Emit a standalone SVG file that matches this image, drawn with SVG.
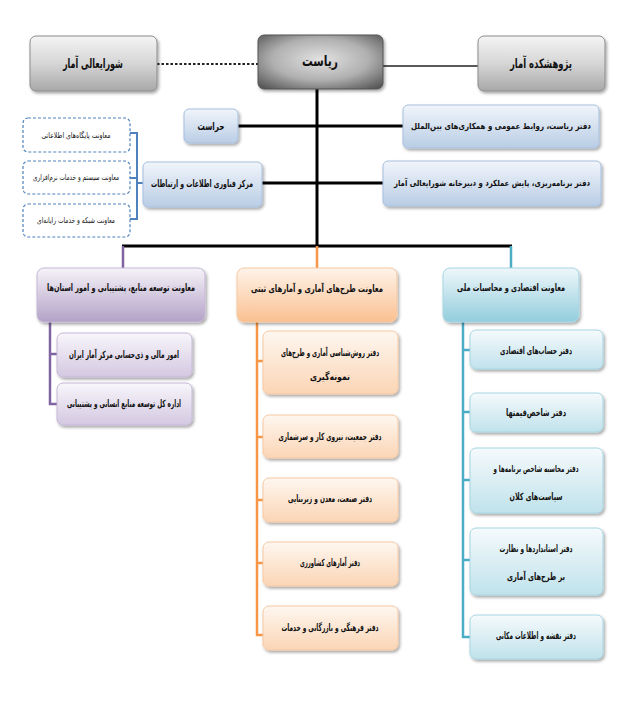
<svg xmlns="http://www.w3.org/2000/svg" width="628" height="703" viewBox="0 0 628 703">
<defs>
  <linearGradient id="gGray" x1="0" y1="0" x2="0" y2="1">
    <stop offset="0" stop-color="#f4f4f4"/>
    <stop offset="0.5" stop-color="#d6d6d6"/>
    <stop offset="1" stop-color="#a8a8a8"/>
  </linearGradient>
  <radialGradient id="gDark" cx="0.5" cy="0.45" r="0.7">
    <stop offset="0" stop-color="#e2e2e2"/>
    <stop offset="0.55" stop-color="#b0b0b0"/>
    <stop offset="1" stop-color="#555"/>
  </radialGradient>
  <linearGradient id="gBlue" x1="0" y1="0" x2="0" y2="1">
    <stop offset="0" stop-color="#f1f5fb"/>
    <stop offset="1" stop-color="#b9cde5"/>
  </linearGradient>
  <linearGradient id="gPurpleH" x1="0" y1="0" x2="0" y2="1">
    <stop offset="0" stop-color="#f6f3f9"/>
    <stop offset="1" stop-color="#b3a2c7"/>
  </linearGradient>
  <linearGradient id="gPurple" x1="0" y1="0" x2="0" y2="1">
    <stop offset="0" stop-color="#f8f6fb"/>
    <stop offset="1" stop-color="#d3c8e1"/>
  </linearGradient>
  <linearGradient id="gOrangeH" x1="0" y1="0" x2="0" y2="1">
    <stop offset="0" stop-color="#fef3ea"/>
    <stop offset="1" stop-color="#fac090"/>
  </linearGradient>
  <linearGradient id="gOrange" x1="0" y1="0" x2="0" y2="1">
    <stop offset="0" stop-color="#fef7f0"/>
    <stop offset="1" stop-color="#fbd5b5"/>
  </linearGradient>
  <linearGradient id="gTealH" x1="0" y1="0" x2="0" y2="1">
    <stop offset="0" stop-color="#eef7fa"/>
    <stop offset="1" stop-color="#93cddd"/>
  </linearGradient>
  <linearGradient id="gTeal" x1="0" y1="0" x2="0" y2="1">
    <stop offset="0" stop-color="#f5fafc"/>
    <stop offset="1" stop-color="#c0e2eb"/>
  </linearGradient>
  <filter id="sh" x="-10%" y="-10%" width="125%" height="135%">
    <feDropShadow dx="1.5" dy="2" stdDeviation="1.5" flood-color="#000" flood-opacity="0.35"/>
  </filter>
</defs>
<style>
  text { font-family: "DejaVu Sans Condensed", "DejaVu Sans", sans-serif; text-anchor: middle; dominant-baseline: central; fill: #111; font-weight: bold; }
  .t13 { font-size: 13px; }
  .t15 { font-size: 15px; }
  .t11 { font-size: 11px; }
  .t10h { font-size: 10px; }
  .t10 { font-size: 10px; }
  .t9 { font-size: 9.5px; }
  .t85 { font-size: 8.5px; }
  .t8 { font-size: 8px; font-weight: normal; }
  .gray { fill: url(#gGray); stroke: #8c8c8c; stroke-width: 1; filter: url(#sh); }
  .dark { fill: url(#gDark); stroke: #555; stroke-width: 1; filter: url(#sh); }
  .blue { fill: url(#gBlue); stroke: #a6bfde; stroke-width: 1; filter: url(#sh); }
  .dash { fill: #fff; stroke: #4f81bd; stroke-width: 1.2; stroke-dasharray: 3 2; }
  .purH { fill: url(#gPurpleH); stroke: #c5b8d6; stroke-width: 1; filter: url(#sh); }
  .pur { fill: url(#gPurple); stroke: #c5b8d6; stroke-width: 1; filter: url(#sh); }
  .oraH { fill: url(#gOrangeH); stroke: #f7c9a2; stroke-width: 1; filter: url(#sh); }
  .ora { fill: url(#gOrange); stroke: #f7c9a2; stroke-width: 1; filter: url(#sh); }
  .teaH { fill: url(#gTealH); stroke: #a6d6e3; stroke-width: 1; filter: url(#sh); }
  .tea { fill: url(#gTeal); stroke: #a6d6e3; stroke-width: 1; filter: url(#sh); }
  .blk { stroke: #000; stroke-width: 3; fill: none; }
  .thin { stroke: #222; stroke-width: 1.3; fill: none; }
  .dot { stroke: #222; stroke-width: 2; stroke-dasharray: 2.5 2; fill: none; }
  .lb { stroke: #4f81bd; stroke-width: 2; fill: none; }
  .lp { stroke: #8064a2; stroke-width: 2.5; fill: none; }
  .lo { stroke: #f79646; stroke-width: 2.5; fill: none; }
  .lt { stroke: #4bacc6; stroke-width: 2.5; fill: none; }
</style>
<rect width="628" height="703" fill="#fff"/>

<g id="connectors">
  <line class="dot" x1="157" y1="64" x2="258" y2="64"/>
  <line class="thin" x1="383" y1="66" x2="478" y2="66"/>
  <line class="blk" x1="317" y1="89" x2="317" y2="246"/>
  <line class="blk" x1="238" y1="126" x2="403" y2="126"/>
  <line class="blk" x1="262" y1="183" x2="383" y2="183"/>
  <line class="blk" x1="122" y1="246" x2="512" y2="246"/>
  <path class="lb" d="M130 133 H137 V219 H130 M130 178 H137 M137 183 H143"/>
  <line class="lp" x1="123" y1="246" x2="123" y2="268"/>
  <line class="lo" x1="317" y1="246" x2="317" y2="268"/>
  <line class="lt" x1="511" y1="246" x2="511" y2="268"/>
  <path class="lp" d="M50 322 V404 H57 M50 354 H57"/>
  <path class="lo" d="M257 322 V635 H263 M257 361 H263 M257 437 H263 M257 500 H263 M257 563 H263"/>
  <path class="lt" d="M463 322 V637 H470 M463 350 H470 M463 412 H470 M463 480 H470 M463 560 H470"/>
</g>

<g id="n-shoura"><rect class="gray" x="30" y="36" width="127" height="55" rx="6"/><text class="t13" x="93" y="63" textLength="60" lengthAdjust="spacingAndGlyphs">شورایعالی آمار</text></g>
<g id="n-riasat"><rect class="dark" x="258" y="35" width="125" height="54" rx="6"/><text class="t15" x="320" y="61" textLength="36" lengthAdjust="spacingAndGlyphs">ریاست</text></g>
<g id="n-pajuhesh"><rect class="gray" x="478" y="36" width="127" height="55" rx="6"/><text class="t13" x="541" y="63" textLength="62" lengthAdjust="spacingAndGlyphs">پژوهشکده آمار</text></g>

<g id="n-herasat"><rect class="blue" x="184" y="109" width="54" height="34" rx="5"/><text class="t11" x="211" y="126" textLength="27" lengthAdjust="spacingAndGlyphs">حراست</text></g>
<g id="n-daftar-riasat"><rect class="blue" x="403" y="105" width="196" height="43" rx="5"/><text class="t85" x="501" y="126" textLength="180" lengthAdjust="spacingAndGlyphs">دفتر ریاست، روابط عمومی و همکاری‌های بین‌الملل</text></g>
<g id="n-markaz"><rect class="blue" x="143" y="162" width="119" height="45" rx="5"/><text class="t10h" x="202" y="183" textLength="102" lengthAdjust="spacingAndGlyphs">مرکز فناوری اطلاعات و ارتباطات</text></g>
<g id="n-barnameh"><rect class="blue" x="383" y="161" width="218" height="45" rx="5"/><text class="t85" x="492" y="183" textLength="196" lengthAdjust="spacingAndGlyphs">دفتر برنامه‌ریزی، پایش عملکرد و دبیرخانه شورایعالی آمار</text></g>

<g id="n-d1"><rect class="dash" x="23" y="118" width="107" height="34" rx="5"/><text class="t8" x="76" y="135" textLength="69" lengthAdjust="spacingAndGlyphs">معاونت پایگاه‌های اطلاعاتی</text></g>
<g id="n-d2"><rect class="dash" x="23" y="161" width="107" height="33" rx="5"/><text class="t8" x="76" y="177" textLength="86" lengthAdjust="spacingAndGlyphs">معاونت سیستم و خدمات نرم‌افزاری</text></g>
<g id="n-d3"><rect class="dash" x="23" y="204" width="107" height="33" rx="5"/><text class="t8" x="76" y="220" textLength="78" lengthAdjust="spacingAndGlyphs">معاونت شبکه و خدمات رایانه‌ای</text></g>

<g id="n-left-head"><rect class="purH" x="37" y="268" width="168" height="54" rx="7"/><text class="t10h" x="121" y="287" textLength="148" lengthAdjust="spacingAndGlyphs">معاونت توسعه منابع، پشتیبانی و امور استان‌ها</text></g>
<g id="n-left-1"><rect class="pur" x="57" y="333" width="135" height="44" rx="6"/><text class="t10" x="124" y="354" textLength="110" lengthAdjust="spacingAndGlyphs">امور مالی و ذی‌حسابی مرکز آمار ایران</text></g>
<g id="n-left-2"><rect class="pur" x="57" y="383" width="135" height="42" rx="6"/><text class="t10" x="124" y="403" textLength="114" lengthAdjust="spacingAndGlyphs">اداره کل توسعه منابع انسانی و پشتیبانی</text></g>

<g id="n-mid-head"><rect class="oraH" x="237" y="268" width="160" height="54" rx="7"/><text class="t10h" x="317" y="288" textLength="132" lengthAdjust="spacingAndGlyphs">معاونت طرح‌های آماری و آمارهای ثبتی</text></g>
<g id="n-mid-1"><rect class="ora" x="263" y="331" width="135" height="63" rx="6"/><text class="t10" x="330" y="352" textLength="98" lengthAdjust="spacingAndGlyphs">دفتر روش‌شناسی آماری و طرح‌های</text><text class="t10" x="330" y="376" textLength="40" lengthAdjust="spacingAndGlyphs">نمونه‌گیری</text></g>
<g id="n-mid-2"><rect class="ora" x="263" y="415" width="135" height="43" rx="6"/><text class="t10" x="330" y="436" textLength="103" lengthAdjust="spacingAndGlyphs">دفتر جمعیت، نیروی کار و سرشماری</text></g>
<g id="n-mid-3"><rect class="ora" x="263" y="478" width="135" height="44" rx="6"/><text class="t10" x="330" y="498" textLength="84" lengthAdjust="spacingAndGlyphs">دفتر صنعت، معدن و زیربنایی</text></g>
<g id="n-mid-4"><rect class="ora" x="263" y="542" width="135" height="44" rx="6"/><text class="t10" x="330" y="562" textLength="60" lengthAdjust="spacingAndGlyphs">دفتر آمارهای کشاورزی</text></g>
<g id="n-mid-5"><rect class="ora" x="263" y="606" width="135" height="44" rx="6"/><text class="t10" x="330" y="627" textLength="97" lengthAdjust="spacingAndGlyphs">دفتر فرهنگی و بازرگانی و خدمات</text></g>

<g id="n-right-head"><rect class="teaH" x="443" y="268" width="136" height="54" rx="7"/><text class="t10h" x="511" y="287" textLength="108" lengthAdjust="spacingAndGlyphs">معاونت اقتصادی و محاسبات ملی</text></g>
<g id="n-right-1"><rect class="tea" x="470" y="330" width="133" height="39" rx="6"/><text class="t10" x="536" y="350" textLength="72" lengthAdjust="spacingAndGlyphs">دفتر حساب‌های اقتصادی</text></g>
<g id="n-right-2"><rect class="tea" x="470" y="393" width="133" height="39" rx="6"/><text class="t10" x="536" y="412" textLength="60" lengthAdjust="spacingAndGlyphs">دفتر شاخص‌قیمتها</text></g>
<g id="n-right-3"><rect class="tea" x="470" y="448" width="133" height="65" rx="6"/><text class="t9" x="536" y="468" textLength="85" lengthAdjust="spacingAndGlyphs">دفتر محاسبه شاخص برنامه‌ها و</text><text class="t10" x="536" y="496" textLength="53" lengthAdjust="spacingAndGlyphs">سیاست‌های کلان</text></g>
<g id="n-right-4"><rect class="tea" x="470" y="528" width="133" height="67" rx="6"/><text class="t10" x="536" y="548" textLength="73" lengthAdjust="spacingAndGlyphs">دفتر استانداردها و نظارت</text><text class="t10" x="536" y="576" textLength="58" lengthAdjust="spacingAndGlyphs">بر طرح‌های آماری</text></g>
<g id="n-right-5"><rect class="tea" x="470" y="615" width="133" height="44" rx="6"/><text class="t10" x="536" y="635" textLength="80" lengthAdjust="spacingAndGlyphs">دفتر نقشه و اطلاعات مکانی</text></g>
</svg>
